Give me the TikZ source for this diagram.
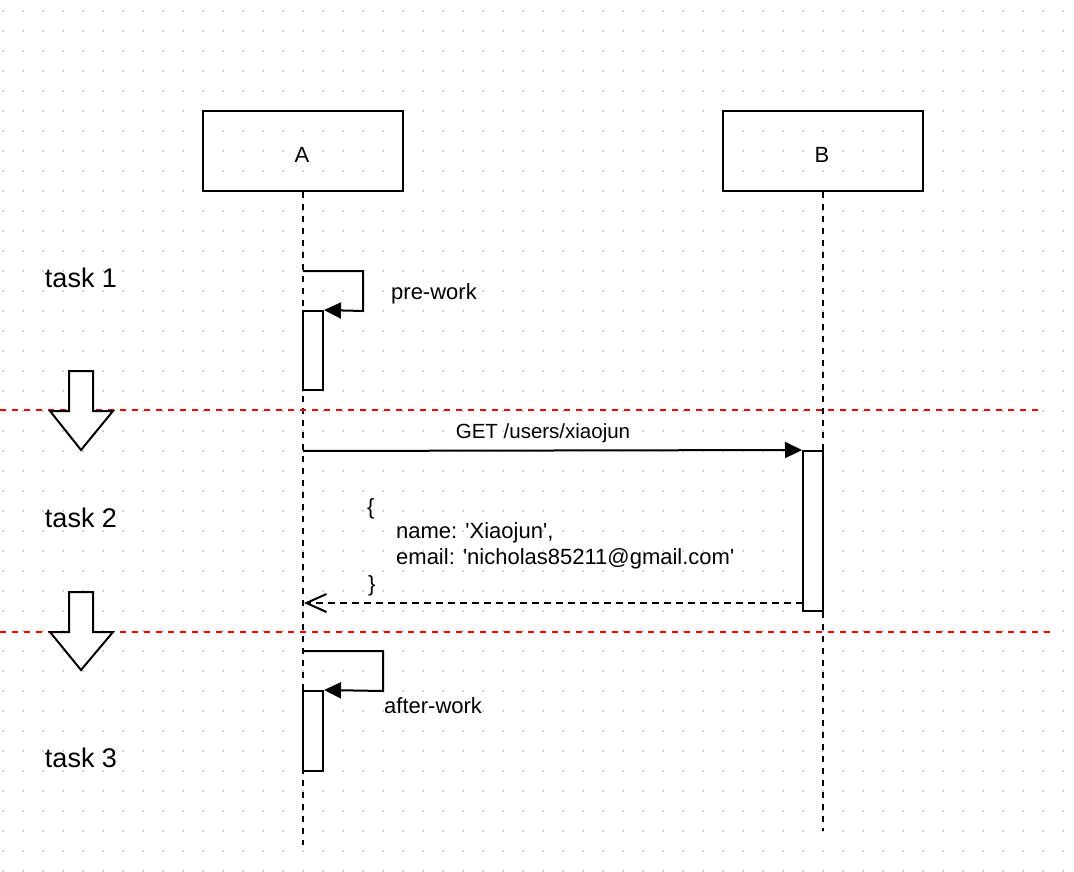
\documentclass[tikz,border=0pt]{standalone}
\usepackage{fontspec}
\setmainfont{Liberation Sans}[Ligatures=TeXOff]
\usetikzlibrary{arrows.meta}
\begin{document}
\begin{tikzpicture}[x=1pt,y=-1pt,
  ln/.style={line width=2pt, black},
  lifeline/.style={line width=2pt, dash pattern=on 6pt off 6pt},
  sep/.style={line width=2pt, red, dash pattern=on 6pt off 6pt},
  actor/.style={draw, line width=2pt, minimum width=200pt, minimum height=80pt, inner sep=0pt},
  actbar/.style={draw, line width=2pt, fill=white},
  lbl/.style={font=\fontsize{22}{26}\selectfont, inner sep=0pt},
  tasklbl/.style={font=\fontsize{27}{32}\selectfont, inner sep=0pt},
  json/.style={font=\fontsize{22}{26}\selectfont, inner sep=0pt, anchor=west},
  fa/.style={-{Triangle[length=17pt,width=16pt]}},
  oa/.style={-{Straight Barb[length=20pt,width=18pt,line width=2pt]}},
  blockarrow/.style={draw, line width=2pt, fill=white, line join=miter}
]
\useasboundingbox (0,0) rectangle (1074,872);
\fill[white] (0,0) rectangle (1074,872);
% grid dots
\foreach \gx in {3,23,...,1073} {
  \foreach \gy in {11,31,...,871} {
    \fill[black!18] (\gx-0.7,\gy-0.7) rectangle (\gx+0.7,\gy+0.7);
  }
}
% actors
\node[actor] (A) at (303,151) {};
\node[actor] (B) at (823,151) {};
\node[lbl] (Al) at (302,155) {A};
\node[lbl] (Bl) at (822,155) {B};
\coordinate (Aend) at (303,845);
\coordinate (Bend) at (823,831);
\draw[lifeline] (A.south) -- (Aend);
\draw[lifeline] (B.south) -- (Bend);
% task labels
\node[tasklbl] (t1) at (81,278) {task 1};
\node[tasklbl] (t2) at (81,518) {task 2};
\node[tasklbl] (t3) at (81,758) {task 3};
% separators
\coordinate (s1a) at (0,410); \coordinate (s1b) at (1043,410);
\coordinate (s2a) at (0,632); \coordinate (s2b) at (1055,632);
\draw[sep] (s1a) -- (s1b);
\draw[sep] (s2a) -- (s2b);
% block arrows
\draw[blockarrow] (69,371) -- (93,371) -- (93,411) -- (113,411) -- (81,450) -- (50,411) -- (69,411) -- cycle;
\draw[blockarrow] (69,592) -- (93,592) -- (93,632) -- (113,632) -- (81,670) -- (50,632) -- (69,632) -- cycle;
% activation bars
\node[actbar, minimum width=20pt, minimum height=79pt, inner sep=0pt] (a1) at (313,350.5) {};
\node[actbar, minimum width=20pt, minimum height=160pt, inner sep=0pt] (b1) at (813,531) {};
\node[actbar, minimum width=20pt, minimum height=80pt, inner sep=0pt] (a2) at (313,731) {};
% self message 1
\coordinate (p1) at (303,271);
\draw[ln, fa] (p1) -- (363,271) -- (363,311) -- (a1.north east);
\node[lbl, anchor=west] (pw) at (391,294) {pre-work};
% GET
\coordinate (g0) at (303,451);
\draw[ln, fa] (g0) -- (b1.north west);
\node[lbl, font=\fontsize{20.5}{24}\selectfont] (gl) at (543,433) {GET /users/xiaojun};
% return
\coordinate (r0) at (803,603);
\coordinate (r1) at (304,603);
\draw[line width=2pt, dash pattern=on 7pt off 5pt, oa] (r0) -- (r1);
\node[json] (j1) at (367,509) {\{};
\node[json] (j2) at (396,533) {name: 'Xiaojun',};
\node[json] (j3) at (396,559) {email: 'nicholas85211@gmail.com'};
\node[json] (j4) at (368,586) {\}};
% self message 2
\coordinate (p2) at (303,651);
\draw[ln, fa] (p2) -- (383,651) -- (383,691) -- (a2.north east);
\node[lbl, anchor=west] (aw) at (384,706) {after-work};
\end{tikzpicture}
\end{document}
